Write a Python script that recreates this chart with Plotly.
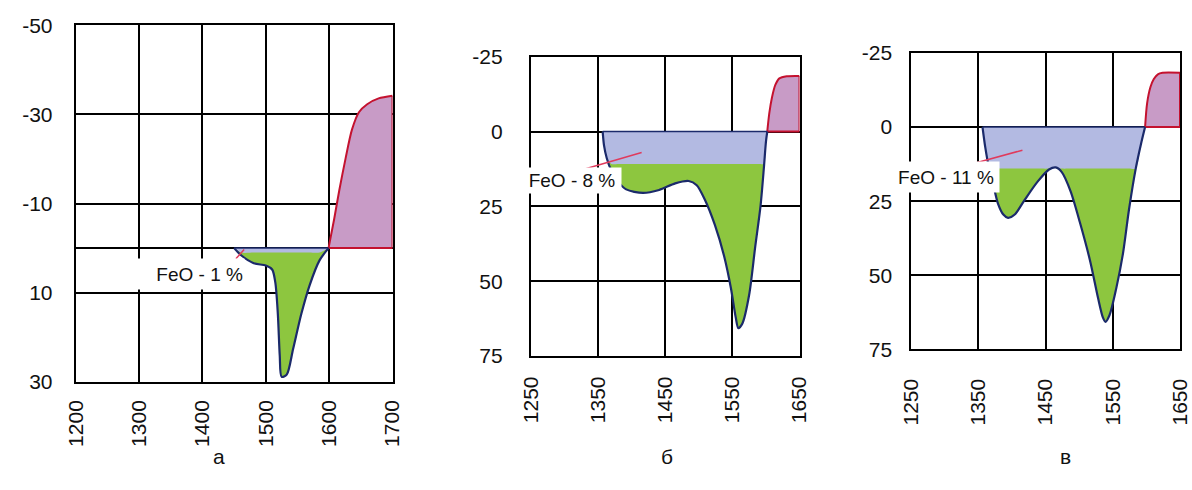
import numpy as np
import plotly.graph_objects as go

# ---------------- data ----------------
# panel а : FeO - 1 %
a_blue_x = [1450, 1461, 1481, 1500, 1510, 1515, 1519, 1522, 1525, 1533, 1543, 1556, 1569, 1585, 1599]
a_blue_y = [0, 1.6, 3.4, 3.9, 4.8, 7.7, 14.8, 24.1, 28.9, 28.4, 22.7, 14.8, 8.4, 2.7, 0]
a_red_x = [1599, 1608, 1616, 1626, 1636, 1647, 1660, 1678, 1700]
a_red_y = [0, -6.6, -13.0, -20.2, -26.6, -30.5, -32.3, -33.6, -34.2]
a_level = 1.0

# panel б : FeO - 8 %
b_blue_x = [1357, 1359, 1363, 1370, 1380, 1392, 1417, 1441, 1465, 1485, 1497, 1509, 1524,
            1538, 1548, 1555, 1559, 1565, 1575, 1584, 1592, 1597, 1600, 1602]
b_blue_y = [0, 4.6, 8.8, 13.1, 16.8, 19.3, 20.5, 19.5, 17.3, 16.5, 17.9, 22.7, 31.2,
            41.8, 52.4, 62.0, 65.7, 64.1, 54.6, 38.6, 24.8, 12.0, 3.5, 0]
b_red_x = [1602, 1605, 1609, 1614, 1620, 1631, 1650]
b_red_y = [0, -6.1, -11.4, -15.6, -17.8, -18.5, -18.6]
b_level = 10.8

# panel в : FeO - 11 %
c_blue_x = [1356, 1360, 1365, 1372, 1379, 1387, 1394, 1404, 1418, 1438, 1455, 1465, 1474,
            1487, 1501, 1516, 1528, 1535, 1539, 1545, 1555, 1565, 1574, 1584, 1592, 1598]
c_blue_y = [0, 6.7, 13.1, 19.4, 25.8, 29.5, 30.6, 29.5, 24.8, 18.4, 14.3, 13.6, 15.2,
            21.6, 32.2, 45.0, 57.7, 64.1, 65.7, 63.5, 54.5, 42.8, 27.9, 14.1, 5.6, 0]
c_red_x = [1598, 1601, 1606, 1611, 1617, 1624, 1650]
c_red_y = [0, -8.0, -13.5, -16.2, -17.8, -18.3, -18.3]
c_level = 14.0

labels = ["FeO - 1 %", "FeO - 8 %", "FeO - 11 %"]
panel_letters = ["а", "б", "в"]

a_xticks = [1200, 1300, 1400, 1500, 1600, 1700]
a_yticks = [-50, -30, -10, 10, 30]
bc_xticks = [1250, 1350, 1450, 1550, 1650]
bc_yticks = [-25, 0, 25, 50, 75]

# ---------------- styling ----------------
W, H = 1192, 490
GREEN = "#8dc63f"
LAV = "#b3bae2"
MAUVE = "#c89bc6"
NAVY = "#1b2a6b"
RED = "#c4122f"
PTR = "#e03a5c"
FONT = "Liberation Sans, Arial, sans-serif"

fig = go.Figure()

panels = [
    dict(bx=a_blue_x, by=a_blue_y, rx=a_red_x, ry=a_red_y, L=a_level, ax="x", ay="y",
         xt=a_xticks, yt=a_yticks, xr=[1200, 1700], yr=[30, -50],
         dom_x=(65, 388), dom_y=(14, 388), ystand=17, xstand=8,
         lab=labels[0], lab_pos=(1467, 5.7), lab_anchor="right", lab_w=110, lab_h=28,
         ptr_x=[1452.8, 1465.8], ptr_y=[2.4, 0.3]),
    dict(bx=b_blue_x, by=b_blue_y, rx=b_red_x, ry=b_red_y, L=b_level, ax="x2", ay="y2",
         xt=bc_xticks, yt=bc_yticks, xr=[1250, 1650], yr=[75, -25],
         dom_x=(529, 803), dom_y=(47, 361), ystand=22, xstand=10,
         lab=labels[1], lab_pos=(1312, 16.4), lab_anchor="center", lab_w=96, lab_h=23,
         ptr_x=[1321.5, 1415], ptr_y=[13.1, 7.0]),
    dict(bx=c_blue_x, by=c_blue_y, rx=c_red_x, ry=c_red_y, L=c_level, ax="x3", ay="y3",
         xt=bc_xticks, yt=bc_yticks, xr=[1250, 1650], yr=[75, -25],
         dom_x=(917, 1191), dom_y=(43, 354), ystand=13, xstand=19,
         lab=labels[2], lab_pos=(1302, 17.0), lab_anchor="center", lab_w=104, lab_h=28,
         ptr_x=[1337.4, 1415.4], ptr_y=[12.6, 7.8]),
]

for i, p in enumerate(panels):
    bx = np.array(p["bx"], dtype=float)
    by = np.array(p["by"], dtype=float)
    rx = list(p["rx"])
    ry = list(p["ry"])
    common = dict(xaxis=p["ax"], yaxis=p["ay"], showlegend=False, hoverinfo="skip")
    fig.add_trace(go.Scatter(x=bx, y=by, mode="lines", fill="tozeroy", fillcolor=GREEN,
                             line=dict(width=0, shape="spline", smoothing=0.8), **common))
    fig.add_trace(go.Scatter(x=bx, y=np.minimum(by, p["L"]), mode="lines", fill="tozeroy",
                             fillcolor=LAV, line=dict(width=0, shape="spline", smoothing=0.8),
                             **common))
    fig.add_trace(go.Scatter(x=rx, y=ry, mode="lines", fill="tozeroy", fillcolor=MAUVE,
                             line=dict(color=RED, width=2, shape="spline", smoothing=0.8),
                             **common))
    fig.add_trace(go.Scatter(x=[rx[-1], rx[-1], rx[0]], y=[ry[-1], 0, 0], mode="lines",
                             line=dict(color=RED, width=2), **common))
    fig.add_trace(go.Scatter(x=[bx[0], bx[-1]], y=[0, 0], mode="lines",
                             line=dict(color=NAVY, width=1.5), **common))
    fig.add_trace(go.Scatter(x=bx, y=by, mode="lines",
                             line=dict(color=NAVY, width=2.2, shape="spline", smoothing=0.8),
                             **common))
    fig.add_trace(go.Scatter(x=p["ptr_x"], y=p["ptr_y"], mode="lines",
                             line=dict(color=PTR, width=1.5), **common))

    n = "" if i == 0 else str(i + 1)
    x0, x1 = p["dom_x"]
    y0, y1 = p["dom_y"]
    axis_common = dict(showline=True, mirror=True, linecolor="black", linewidth=2,
                       showgrid=True, gridcolor="black", gridwidth=2, ticks="",
                       tickfont=dict(size=21, color="#111", family=FONT))
    fig.update_layout(**{
        "xaxis" + n: dict(domain=[x0 / W, x1 / W], range=p["xr"], anchor="y" + n,
                          tickvals=p["xt"], ticktext=[str(v) for v in p["xt"]],
                          tickangle=-90, zeroline=False, ticklabelstandoff=p["xstand"],
                          **axis_common),
        "yaxis" + n: dict(domain=[1 - y1 / H, 1 - y0 / H], range=p["yr"], anchor="x" + n,
                          tickvals=p["yt"], ticktext=[str(v) for v in p["yt"]],
                          zeroline=True, zerolinecolor="black", zerolinewidth=2,
                          ticklabelstandoff=p["ystand"], **axis_common),
    })
    fig.add_annotation(x=p["lab_pos"][0], y=p["lab_pos"][1], xref=p["ax"], yref=p["ay"],
                       text=p["lab"], showarrow=False, bgcolor="white",
                       xanchor=p["lab_anchor"],
                       align="right" if p["lab_anchor"] == "right" else "center",
                       width=p["lab_w"], height=p["lab_h"], borderpad=1,
                       font=dict(size=19, color="#111", family=FONT))

letter_x = [203, 668, 1082]
for lx, letter in zip(letter_x, panel_letters):
    fig.add_annotation(x=lx / W, y=1 - 481 / H, xref="paper", yref="paper", text=letter,
                       showarrow=False, font=dict(size=21, color="#111", family=FONT))

fig.update_layout(width=W, height=H, autosize=False,
                  margin=dict(l=0, r=0, t=0, b=0),
                  paper_bgcolor="white", plot_bgcolor="white",
                  font=dict(family=FONT, color="#111"))

fig.write_html("out.html", config={"displayModeBar": False},
               post_script="document.body.style.margin='0';document.body.style.overflow='hidden';")
